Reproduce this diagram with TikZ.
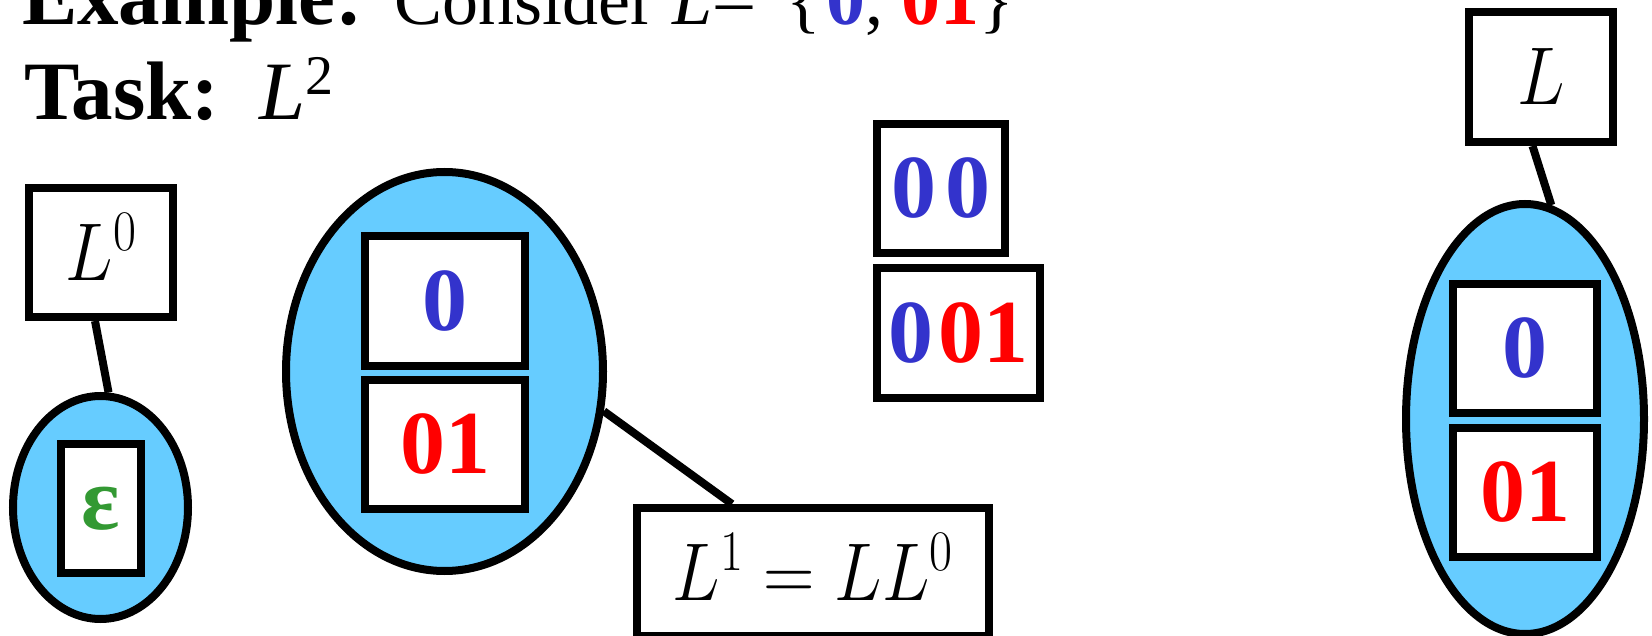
\RequirePackage{fix-cm}
\documentclass[tikz,border=0pt]{standalone}
\usepackage[no-math]{fontspec}
\setmainfont{Liberation Serif}
\usetikzlibrary{shapes.geometric}
\definecolor{setblue}{RGB}{102,204,255}
\definecolor{zeroblue}{RGB}{51,51,204}
\definecolor{onered}{RGB}{255,0,0}
\definecolor{epsgreen}{RGB}{51,153,51}
\newcommand{\mlabel}[1]{\scalebox{0.87}[1]{$#1$}}
\newcommand{\bz}{\textcolor{zeroblue}{0}}
\newcommand{\rzo}{\textcolor{onered}{01}}

\begin{document}
\begin{tikzpicture}[
    x=1pt, y=-1pt, line width=8pt,
    langset/.style={ellipse, draw, fill=setblue, inner sep=0pt},
    wordbox/.style={rectangle, draw, fill=white, inner sep=0pt,
        font=\fontsize{90}{90}\selectfont\bfseries},
    namebox/.style={rectangle, draw, fill=white, inner sep=0pt,
        text height=56pt, text depth=0pt, font=\fontsize{82}{82}\selectfont}
]
    \useasboundingbox (0,0) rectangle (1652,636);
    \clip (0,0) rectangle (1652,636);

    % heading
    \node[anchor=base west, inner sep=0pt] (example) at (18,25)
        {\fontsize{83}{83}\selectfont\bfseries Example:\hspace{31pt}%
         \fontsize{72}{72}\selectfont\mdseries Consider\hspace{18pt}\textit{L}\kern4pt–\hspace{34pt}%
         \{\kern6pt{\bfseries\fontsize{78}{78}\selectfont\bz}, {\bfseries\fontsize{78}{78}\selectfont\rzo}\}};
    \node[anchor=base west, inner sep=0pt] (task) at (20,120)
        {\fontsize{83}{83}\selectfont\bfseries Task:\hspace{40pt}\mdseries\itshape L\upshape\raisebox{25pt}{\fontsize{56}{56}\selectfont 2}};

    % L^0
    \node[namebox, minimum width=144pt, minimum height=129pt] (lzero) at (101,252.5) {\mlabel{L^0}};
    \node[langset, minimum width=175pt, minimum height=223pt] (epsset) at (100.5,507.5) {};
    \node[wordbox, minimum width=80pt, minimum height=129pt] (eps) at (101,508.5) {\textcolor{epsgreen}{ε}};
    \draw (lzero.265) -- (epsset.86);

    % L^1
    \node[langset, minimum width=317pt, minimum height=399pt] (oneset) at (444.5,371.5) {};
    \node[wordbox, minimum width=160pt, minimum height=130pt] (one0) at (445,301) {\bz};
    \node[wordbox, minimum width=160pt, minimum height=129pt] (one01) at (445,444.5) {\rzo};
    \node[namebox, minimum width=352pt, minimum height=128pt] (lone) at (813,572) {\mlabel{L^1 = LL^0}};
    \draw (oneset.346) -- (lone.140);

    % words of L^2
    \node[wordbox, minimum width=128pt, minimum height=129pt] (two00) at (941,188.5) {\bz\kern9pt\bz};
    \node[wordbox, minimum width=163pt, minimum height=130pt] (two001) at (958.5,333) {\bz\kern5pt\rzo};

    % L
    \node[namebox, minimum width=144pt, minimum height=130pt] (lbox) at (1541,77) {\mlabel{L}};
    \node[langset, minimum width=238pt, minimum height=430pt] (lset) at (1525,419) {};
    \node[wordbox, minimum width=144pt, minimum height=129pt] (l0) at (1525,348.5) {\bz};
    \node[wordbox, minimum width=144pt, minimum height=129pt] (l01) at (1525,492.5) {\rzo};
    \draw (lbox.263) -- (lset.83);
\end{tikzpicture}
\end{document}
